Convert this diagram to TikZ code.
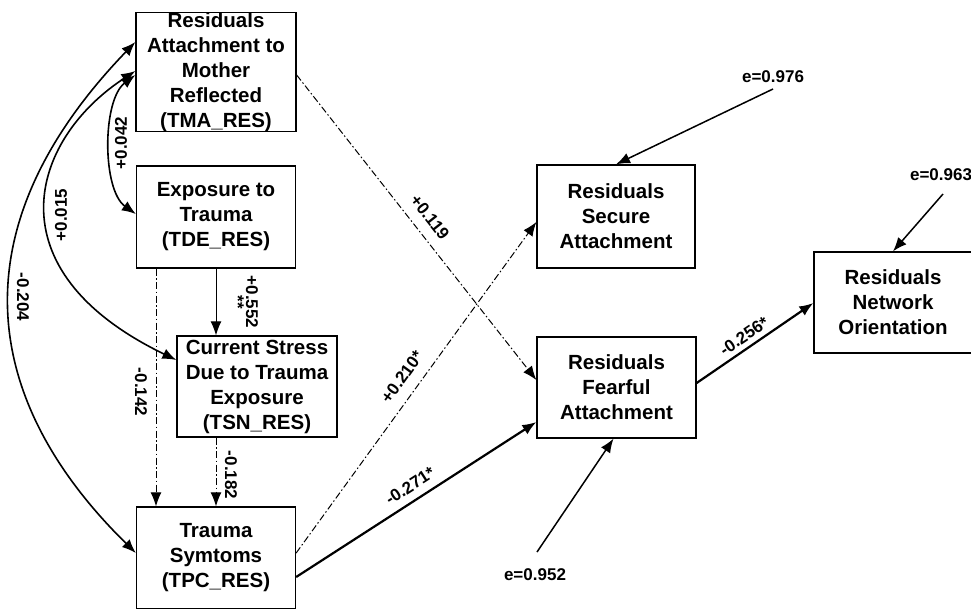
\documentclass[tikz,border=0pt]{standalone}
\usepackage{fontspec}
\setmainfont{Liberation Sans}
\usetikzlibrary{arrows.meta}
\newcommand\boxfont{\fontsize{20.5}{25}\selectfont\bfseries}
\newcommand\lblfont{\fontsize{17}{18}\selectfont\bfseries}
\newcommand\lblfonttight{\fontsize{17}{14}\selectfont\bfseries}
\begin{document}
\begin{tikzpicture}[x=1pt,y=-1pt,
  box/.style={draw, line width=1.3pt, align=center, inner sep=0pt, font=\boxfont,
              minimum width=159pt, minimum height=102pt},
  tip/.tip={Latex[length=14pt,width=11pt]},
  arr/.style={-tip, line width=1.5pt},
  thick arr/.style={-tip, line width=2.2pt},
  dd/.style={-tip, line width=1pt, dash pattern=on 7pt off 2.5pt on 1.5pt off 2.5pt},
  both/.style={tip-tip, line width=1.6pt},
  lbl/.style={font=\lblfont, inner sep=0pt}]
\useasboundingbox (0,0) rectangle (971,608);
\clip (0,0) rectangle (971,608);

% boxes
\node[box, minimum width=160pt, minimum height=119pt] (tma) at (216,72)
  {Residuals\\Attachment to\\Mother\\Reflected\\(TMA\_RES)};
\node[box] (tde) at (216,217) {Exposure to\\Trauma\\(TDE\_RES)};
\node[box, minimum width=160pt, minimum height=101pt] (tsn) at (257,386.5)
  {Current Stress\\Due to Trauma\\Exposure\\(TSN\_RES)};
\node[box] (tpc) at (216,558) {Trauma\\Symtoms\\(TPC\_RES)};
\node[box, minimum width=158pt, minimum height=103pt] (sec) at (616,216.5)
  {Residuals\\Secure\\Attachment};
\node[box, minimum height=101pt] (fear) at (616.5,387.5)
  {Residuals\\Fearful\\Attachment};
\node[box, minimum width=158pt, minimum height=101pt] (net) at (893,302.5)
  {Residuals\\Network\\Orientation};

% error terms
\node[lbl] (e1) at (773,77) {e=0.976};
\node[lbl] (e2) at (941,175) {e=0.963};
\node[lbl] (e3) at (535,575) {e=0.952};
\coordinate (e1s) at (773,89);
\coordinate (e2s) at (943,194);
\coordinate (e3s) at (537,552);
\draw[arr] (e1s) -- (sec.north);
\draw[arr] (e2s) -- (net.north);
\draw[arr] (e3s) -- ([xshift=-3pt]fear.south);

% correlations (curved, double-headed)
\draw[both] ([yshift=30pt]tma.west) .. controls (-44,228) and (-20,400) .. ([yshift=5pt]tpc.west);
\draw[both] ([yshift=1pt]tma.west) .. controls (30,140) and (-10,270) .. ([yshift=26.5pt]tsn.west);
\draw[both] ([yshift=-3pt]tma.west) .. controls (102,100) and (102,190) .. ([yshift=3pt]tde.west);
\node[lbl, rotate=-90] (l204) at (23,297) {-0.204};
\node[lbl, rotate=90] (l015) at (61,215) {+0.015};
\node[lbl, rotate=90] (l042) at (121,143) {+0.042};

% vertical paths
\draw[arr, line width=1pt] (tde.south) -- (tde.south |- tsn.north);
\node[lbl, rotate=-90, align=center, font=\lblfonttight] (l552) at (245,302) {+0.552\\**};
\draw[dd] ([xshift=-60pt]tde.south) -- ([xshift=-60pt]tpc.north);
\node[lbl, rotate=-90] (l142) at (141,392) {-0.142};
\draw[dd] (tpc.north |- tsn.south) -- (tpc.north);
\node[lbl, rotate=-90] (l182) at (231,475) {-0.182};

% diagonal paths
\draw[dd] ([yshift=-3pt]tma.east) -- ([yshift=7.5pt]fear.west);
\node[lbl, rotate=-51.8] (l119) at (430,217) {+0.119};
\draw[dd] ([yshift=5pt]tpc.east) -- ([yshift=-5.5pt]sec.west);
\node[lbl, rotate=54] (l210) at (402,377) {+0.210*};
\draw[thick arr] ([yshift=-19pt]tpc.east) -- ([yshift=-34.5pt]fear.west);
\node[lbl, rotate=32.7] (l271) at (410,486) {-0.271*};
\draw[thick arr] ([yshift=4.5pt]fear.east) -- ([yshift=-0.5pt]net.west);
\node[lbl, rotate=34] (l256) at (744,336) {-0.256*};
\end{tikzpicture}
\end{document}
